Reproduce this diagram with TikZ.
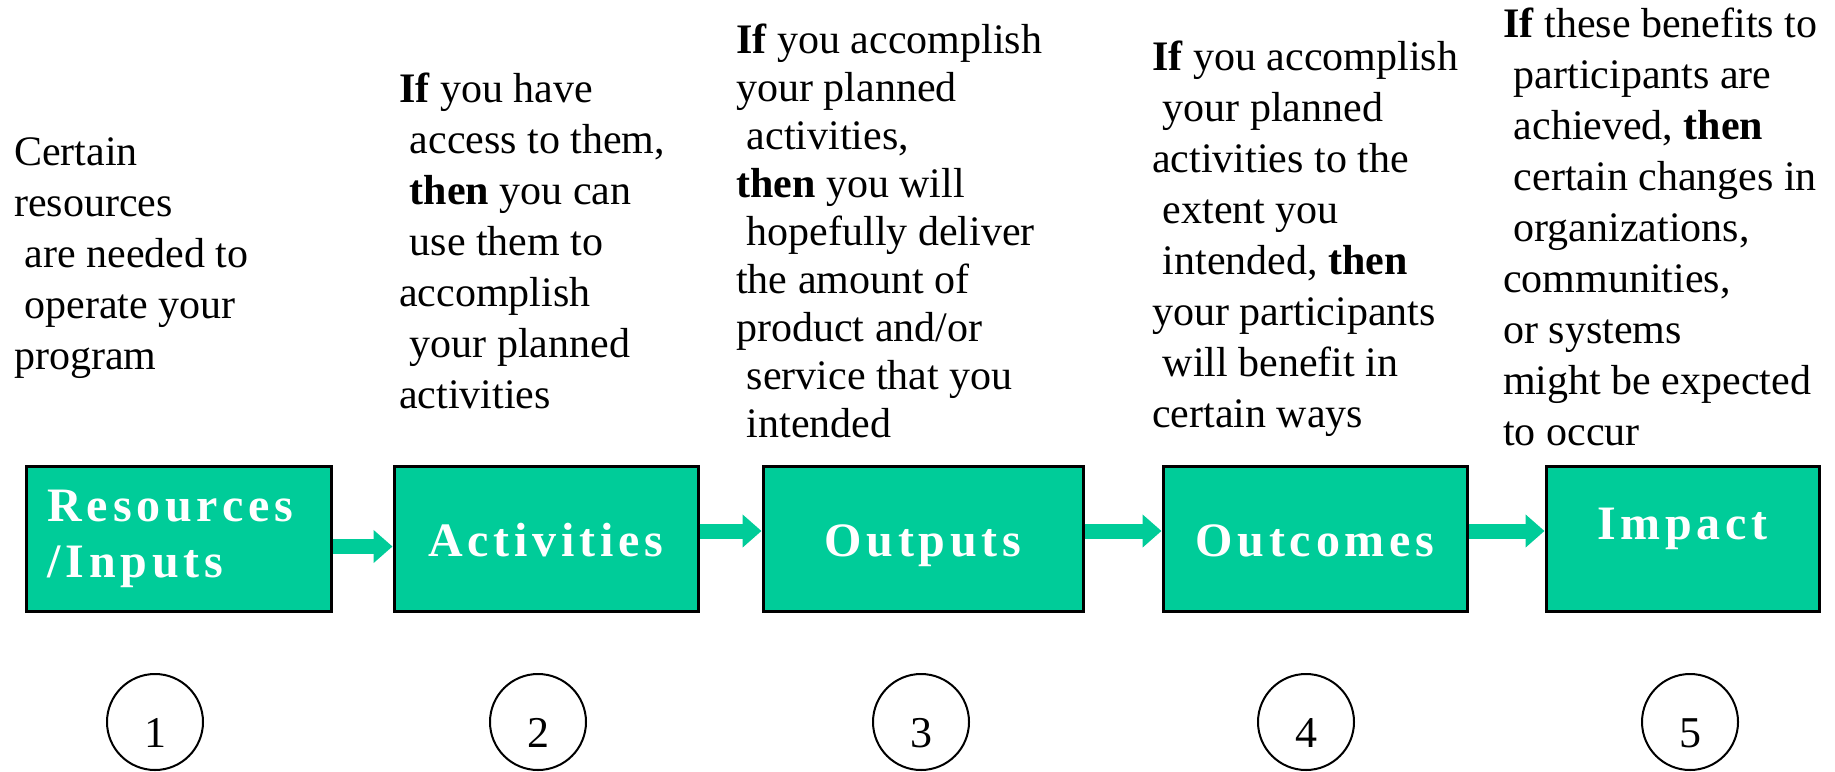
\documentclass[tikz,border=0pt]{standalone}
\usepackage{fontspec}
\setmainfont{Liberation Serif}
\newfontfamily\stagefont[LetterSpace=10]{Liberation Serif}
\usepackage{xcolor}
\usetikzlibrary{arrows.meta}
\definecolor{stagegreen}{RGB}{0,204,153}
\newcommand{\sk}{\hspace*{.25em}}

\tikzset{
  stage/.style={draw=black, line width=3pt, fill=stagegreen, inner sep=0pt,
    minimum height=145pt, text=white,
    font=\stagefont\bfseries\fontsize{48}{56}\selectfont},
  oneline/.style={text height=34pt, text depth=0pt},
  note/.style={anchor=north west, inner sep=0pt, align=left,
    font=\fontsize{42}{51}\selectfont},
  flow/.style={draw=stagegreen, line width=15pt,
    -{Triangle[length=19pt,width=32pt]}},
  num/.style={circle, draw, line width=2pt, minimum size=96pt, inner sep=0pt,
    text height=50pt, text depth=0pt, font=\fontsize{44}{50}\selectfont}
}

\begin{document}
\begin{tikzpicture}[x=1pt,y=-1pt]
                \useasboundingbox (0,0) rectangle (1835,771);
                % the five stages
                \node [stage, align=left, text width=262pt, minimum width=305pt] (res) at (178.5,539) {Resources\\/Inputs};
                \node [stage, oneline, minimum width=304pt] (act) at (546,539) {Activities};
                \node [stage, oneline, minimum width=320pt] (outp) at (923,539) {Outputs};
                \node [stage, oneline, minimum width=304pt] (outc) at (1315,539) {Outcomes};
                \node [stage, oneline, text depth=34pt, minimum width=273pt] (imp) at (1682.5,539) {Impact};
                \draw [flow] ([yshift=-7.5pt]res.east) -- ([yshift=-7.5pt]act.west);
                \draw [flow] ([yshift=8pt]act.east) -- ([yshift=8pt]outp.west);
                \draw [flow] ([yshift=8pt]outp.east) -- ([yshift=8pt]outc.west);
                \draw [flow] ([yshift=8pt]outc.east) -- ([yshift=8pt]imp.west);
                % the texts above
                \node [note] (t1) at (14,129.3) {\strut Certain\\resources\\\sk are needed to\\\sk operate your\\program};
                \node [note] (t2) at (399,66.3) {\strut\textbf{If} you have\\\sk access to them,\\\sk\textbf{then} you can\\\sk use them to\\accomplish\\\sk your planned\\activities};
                \node [note, font=\fontsize{42}{48}\selectfont] (t3) at (736,19.4) {\strut\textbf{If} you accomplish\\your planned\\\sk activities,\\\textbf{then} you will\\\sk hopefully deliver\\the amount of\\product and/or\\\sk service that you\\\sk intended};
                \node [note] (t4) at (1152,34.3) {\strut\textbf{If} you accomplish\\\sk your planned\\activities to the\\\sk extent you\\\sk intended, \textbf{then}\\your participants\\\sk will benefit in\\certain ways};
                \node [note] (t5) at (1503,1.3) {\strut\textbf{If} these benefits to\\\sk participants are\\\sk achieved, \textbf{then}\\\sk certain changes in\\\sk organizations,\\communities,\\or systems\\might be expected\\to occur};
                % the numbers
                \node [num] (n1) at (155,722) {1};
                \node [num] (n2) at (538,722) {2};
                \node [num] (n3) at (921,722) {3};
                \node [num] (n4) at (1306,722) {4};
                \node [num] (n5) at (1690,722) {5};
            \end{tikzpicture}
\end{document}
